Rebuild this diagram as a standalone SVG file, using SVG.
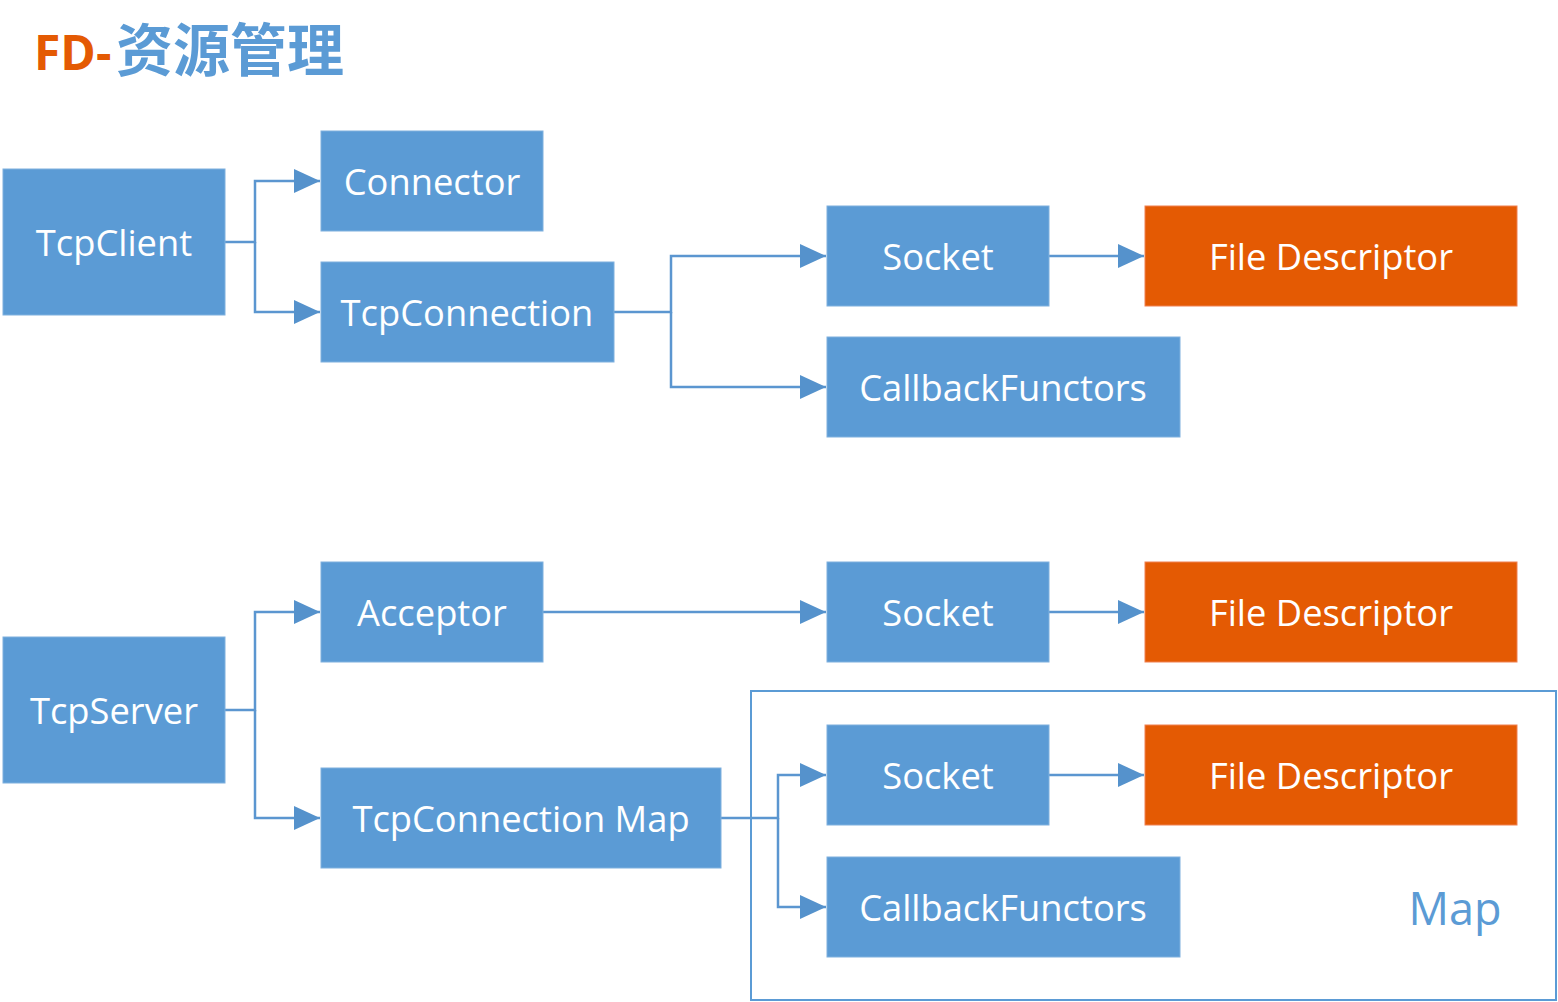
<svg xmlns="http://www.w3.org/2000/svg" width="1558" height="1002" viewBox="0 0 1558 1002">
<style>
.b{fill:#5B9BD5;stroke:#7FB0DE;stroke-width:1}
.o{fill:#E45A03;stroke:#F08050;stroke-width:1}
.t{font-family:"Open Sans","Liberation Sans",sans-serif;font-size:36.3px;fill:#fff;text-anchor:middle;dominant-baseline:central}
.c{fill:none;stroke:#5B96D0;stroke-width:2.5}
</style>
<defs>
<marker id="ar" markerUnits="userSpaceOnUse" markerWidth="26" markerHeight="26" viewBox="0 0 26 26" refX="26" refY="13" orient="auto">
<path d="M0,1 L26,13 L0,25 Z" fill="#5592CC"/>
</marker>
</defs>
<rect x="0" y="0" width="1558" height="1002" fill="#fff"/>
<g id="title">
<text x="34" y="70" font-family="'Open Sans','Liberation Sans',sans-serif" font-weight="bold" font-size="48" fill="#E45A03">FD-</text>
<text x="116" y="71" font-family="'Noto Sans CJK SC',sans-serif" font-weight="bold" font-size="57" fill="#5B9BD5">资源管理</text>
</g>
<g id="connectors">
<path class="c" d="M225,242 H255 V181 H320" marker-end="url(#ar)"/>
<path class="c" d="M255,242 V312 H320" marker-end="url(#ar)"/>
<path class="c" d="M614,312 H671 V256 H826" marker-end="url(#ar)"/>
<path class="c" d="M671,312 V387 H826" marker-end="url(#ar)"/>
<path class="c" d="M1049,256 H1144" marker-end="url(#ar)"/>
<path class="c" d="M225,710 H255 V612 H320" marker-end="url(#ar)"/>
<path class="c" d="M255,710 V818 H320" marker-end="url(#ar)"/>
<path class="c" d="M543,612 H826" marker-end="url(#ar)"/>
<path class="c" d="M1049,612 H1144" marker-end="url(#ar)"/>
<path class="c" d="M721,818 H778 V775 H826" marker-end="url(#ar)"/>
<path class="c" d="M778,818 V907 H826" marker-end="url(#ar)"/>
<path class="c" d="M1049,775 H1144" marker-end="url(#ar)"/>
</g>
<g id="mapgroup">
<rect x="751" y="691" width="805" height="309" fill="none" stroke="#5B9BD5" stroke-width="2"/>
<text x="1455" y="907" font-family="'Open Sans','Liberation Sans',sans-serif" font-size="45" fill="#5B9BD5" text-anchor="middle" dominant-baseline="central">Map</text>
</g>
<g id="tcpclient"><rect class="b" x="3" y="169" width="222" height="146"/><text class="t" x="114" y="242">TcpClient</text></g>
<g id="connector"><rect class="b" x="321" y="131" width="222" height="100"/><text class="t" x="432" y="181">Connector</text></g>
<g id="tcpconnection"><rect class="b" x="321" y="262" width="293" height="100"/><text class="t" x="467" y="312">TcpConnection</text></g>
<g id="socket1"><rect class="b" x="827" y="206" width="222" height="100"/><text class="t" x="938" y="256">Socket</text></g>
<g id="fd1"><rect class="o" x="1145" y="206" width="372" height="100"/><text class="t" x="1331" y="256">File Descriptor</text></g>
<g id="callback1"><rect class="b" x="827" y="337" width="353" height="100"/><text class="t" x="1003" y="387">CallbackFunctors</text></g>
<g id="tcpserver"><rect class="b" x="3" y="637" width="222" height="146"/><text class="t" x="114" y="710">TcpServer</text></g>
<g id="acceptor"><rect class="b" x="321" y="562" width="222" height="100"/><text class="t" x="432" y="612">Acceptor</text></g>
<g id="socket2"><rect class="b" x="827" y="562" width="222" height="100"/><text class="t" x="938" y="612">Socket</text></g>
<g id="fd2"><rect class="o" x="1145" y="562" width="372" height="100"/><text class="t" x="1331" y="612">File Descriptor</text></g>
<g id="tcpconnectionmap"><rect class="b" x="321" y="768" width="400" height="100"/><text class="t" x="521" y="818">TcpConnection Map</text></g>
<g id="socket3"><rect class="b" x="827" y="725" width="222" height="100"/><text class="t" x="938" y="775">Socket</text></g>
<g id="fd3"><rect class="o" x="1145" y="725" width="372" height="100"/><text class="t" x="1331" y="775">File Descriptor</text></g>
<g id="callback2"><rect class="b" x="827" y="857" width="353" height="100"/><text class="t" x="1003" y="907">CallbackFunctors</text></g>
</svg>
